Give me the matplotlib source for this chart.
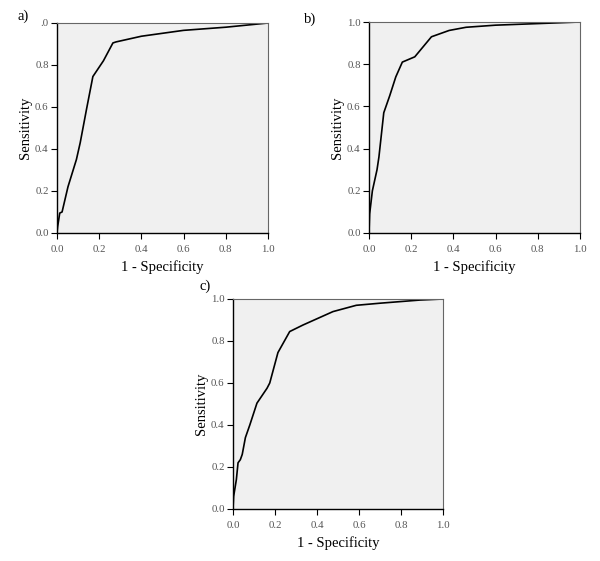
import matplotlib
matplotlib.use("Agg")
import matplotlib.pyplot as plt

plt.rcParams['font.family'] = ['Liberation Serif', 'DejaVu Serif']

# ROC curves
fpr_a = [0.0, 0.003, 0.013, 0.024, 0.052, 0.092, 0.11, 0.14, 0.17, 0.22, 0.265, 0.28, 0.40, 0.60, 0.80, 1.0]
tpr_a = [0.0, 0.03, 0.095, 0.10, 0.22, 0.35, 0.43, 0.59, 0.745, 0.82, 0.905, 0.91, 0.937, 0.965, 0.98, 1.0]

fpr_b = [0.0, 0.003, 0.016, 0.038, 0.047, 0.07, 0.098, 0.127, 0.158, 0.217, 0.296, 0.38, 0.46, 0.60, 1.0]
tpr_b = [0.0, 0.09, 0.20, 0.30, 0.36, 0.57, 0.65, 0.74, 0.81, 0.835, 0.93, 0.96, 0.975, 0.985, 1.0]

fpr_c = [0.0, 0.003, 0.016, 0.024, 0.035, 0.044, 0.059, 0.08, 0.114, 0.162, 0.175, 0.214, 0.27, 0.333, 0.476, 0.587, 0.70, 0.89, 1.0]
tpr_c = [0.0, 0.06, 0.14, 0.22, 0.235, 0.26, 0.34, 0.40, 0.504, 0.575, 0.60, 0.745, 0.845, 0.876, 0.94, 0.97, 0.98, 0.995, 1.0]

ticks = [0.0, 0.2, 0.4, 0.6, 0.8, 1.0]
tick_labels = ["0.0", "0.2", "0.4", "0.6", "0.8", "1.0"]
ytick_labels_a = ["0.0", "0.2", "0.4", "0.6", "0.8", ".0"]

W, H = 600, 561
fig = plt.figure(figsize=(6, 5.61), dpi=100)

def make_ax(left, top, right, bottom):
    return fig.add_axes([left / W, 1 - bottom / H, (right - left) / W, (bottom - top) / H])

panels = [
    (make_ax(57, 23, 268, 233), fpr_a, tpr_a, ytick_labels_a, "a)", (17, 16)),
    (make_ax(369, 22, 580, 233), fpr_b, tpr_b, tick_labels, "b)", (304, 19)),
    (make_ax(233, 299, 443, 509), fpr_c, tpr_c, tick_labels, "c)", (199, 286)),
]

for ax, x, y, ylabs, tag, pos in panels:
    ax.set_facecolor('#f0f0f0')
    ax.plot(x, y, color='black', lw=1.2)
    ax.set_xlim(0, 1)
    ax.set_ylim(0, 1)
    ax.set_xticks(ticks)
    ax.set_xticklabels(tick_labels)
    ax.set_yticks(ticks)
    ax.set_yticklabels(ylabs)
    ax.tick_params(direction='out', length=4, width=0.8, labelsize=7.8,
                   labelcolor='#555555')
    ax.tick_params(axis='x', pad=5)
    ax.tick_params(axis='y', pad=2)
    for s in ['left', 'bottom']:
        ax.spines[s].set_color('black')
        ax.spines[s].set_linewidth(1.0)
    for s in ['top', 'right']:
        ax.spines[s].set_color('#666666')
        ax.spines[s].set_linewidth(0.8)
    ax.set_xlabel("1 - Specificity", fontsize=10.5, labelpad=4)
    ax.set_ylabel("Sensitivity", fontsize=10.5, labelpad=2)
    fig.text(pos[0] / W, 1 - pos[1] / H, tag, fontsize=10.5, ha='left', va='center')

fig.savefig("out.png", dpi=100)
